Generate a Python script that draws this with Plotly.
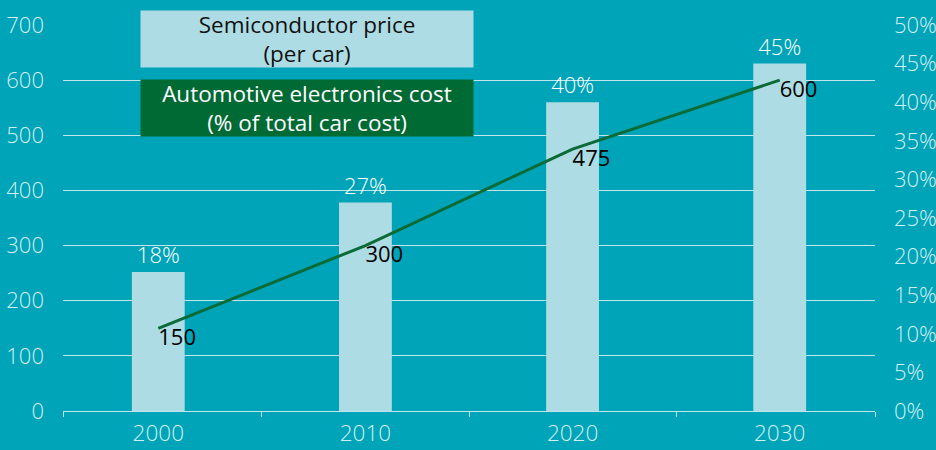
import plotly.graph_objects as go

# ---- data ----
years = ["2000", "2010", "2020", "2030"]
electronics_share_pct = [18, 27, 40, 45]      # bars, right axis (%)
semiconductor_price = [150, 300, 475, 600]    # line, left axis
left_ticks = [0, 100, 200, 300, 400, 500, 600, 700]
right_ticks = [0, 5, 10, 15, 20, 25, 30, 35, 40, 45, 50]
legend_bar_label = "Semiconductor price<br>(per car)"
legend_line_label = "Automotive electronics cost<br>(% of total car cost)"

# ---- styles ----
BG = "#00A4B8"
BAR = "#ADDCE4"
GREEN = "#0A6B36"
LEGEND_GREEN = "#006A35"
TICK = "#D2EFF3"
GRID = "#BEE6EC"
FONT = "Open Sans"

x = list(range(len(years)))

fig = go.Figure()
fig.add_bar(
    x=x, y=electronics_share_pct, yaxis="y", width=0.255,
    marker=dict(color=BAR, line=dict(width=0)),
    text=[f"{v}%" for v in electronics_share_pct], textposition="outside",
    textfont=dict(color="#FFFFFF", size=22, family=FONT, weight=300), cliponaxis=False,
    showlegend=False, hoverinfo="skip",
)
fig.add_scatter(
    x=x, y=semiconductor_price, yaxis="y2", mode="lines+text",
    line=dict(color=GREEN, width=3),
    text=[str(v) for v in semiconductor_price], textposition="bottom right",
    textfont=dict(color="#000000", size=22, family=FONT), cliponaxis=False,
    showlegend=False, hoverinfo="skip",
)

tickfont = dict(size=22, color=TICK, family=FONT, weight=300)

fig.update_layout(
    width=936, height=450, autosize=False,
    paper_bgcolor=BG, plot_bgcolor=BG,
    margin=dict(l=63, r=61, t=25, b=39, autoexpand=False),
    font=dict(family=FONT, size=22, color=TICK),
    xaxis=dict(
        range=[-0.46, 3.46], tickmode="array", tickvals=x, ticktext=years,
        ticks="", showgrid=False, zeroline=False, automargin=False,
        showline=True, linecolor=GRID, linewidth=1.2,
        tickfont=dict(size=22.5, color=TICK, family=FONT, weight=300),
        ticklabelstandoff=2,
        minor=dict(tickmode="array", tickvals=[-0.46, 0.5, 1.5, 2.5, 3.46],
                   ticks="outside", ticklen=5, tickwidth=1, tickcolor=GRID, showgrid=False),
    ),
    yaxis=dict(
        side="right", range=[0, 50], tickmode="array", tickvals=right_ticks,
        ticktext=[f"{v}%" for v in right_ticks], showgrid=False, zeroline=False,
        tickfont=tickfont, ticklabelstandoff=18, automargin=False,
    ),
    yaxis2=dict(
        overlaying="y", side="left", range=[0, 700], tickmode="array",
        tickvals=left_ticks, showgrid=True, gridcolor=GRID, gridwidth=1,
        zeroline=False, tickfont=tickfont, ticklabelstandoff=18, automargin=False,
    ),
    annotations=[
        dict(xref="paper", yref="paper", x=0.3005, y=0.9637, xanchor="center", yanchor="middle",
             text=legend_bar_label, showarrow=False, bgcolor=BAR, width=332, height=56,
             borderpad=0, font=dict(color="#111111", size=22.5, family=FONT)),
        dict(xref="paper", yref="paper", x=0.3005, y=0.785, xanchor="center", yanchor="middle",
             text=legend_line_label, showarrow=False, bgcolor=LEGEND_GREEN, width=332, height=56,
             borderpad=0, font=dict(color="#FFFFFF", size=22.5, family=FONT)),
    ],
)

fig.write_html("out.html", config={"displayModeBar": False, "staticPlot": True},
               post_script="document.body.style.margin='0';document.body.style.padding='0';")
